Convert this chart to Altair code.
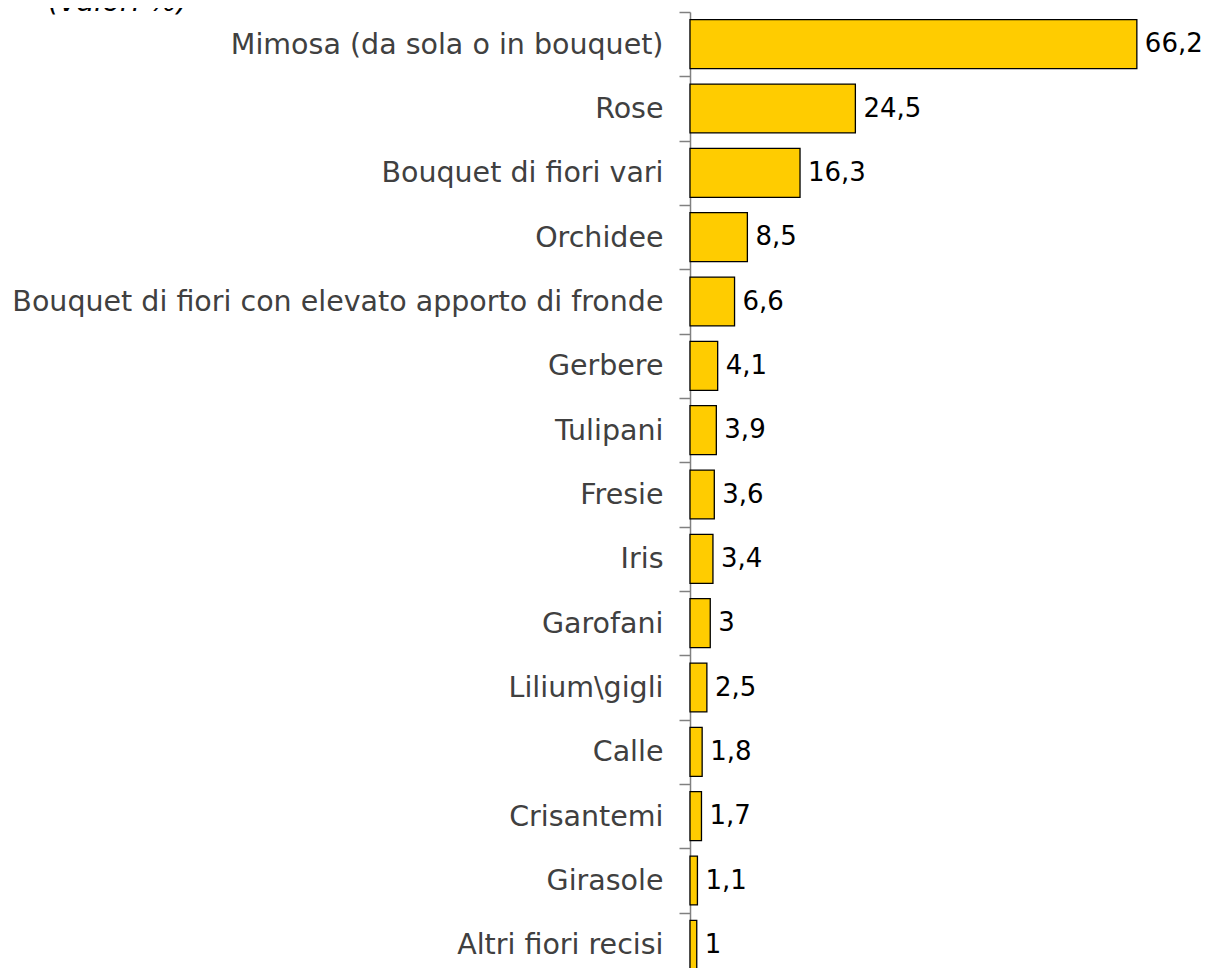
import altair as alt
import pandas as pd

categories = [
    "Mimosa (da sola o in bouquet)", "Rose", "Bouquet di fiori vari", "Orchidee",
    "Bouquet di fiori con elevato apporto di fronde", "Gerbere", "Tulipani", "Fresie",
    "Iris", "Garofani", "Lilium\\gigli", "Calle", "Crisantemi", "Girasole", "Altri fiori recisi",
]
values = [66.2, 24.5, 16.3, 8.5, 6.6, 4.1, 3.9, 3.6, 3.4, 3.0, 2.5, 1.8, 1.7, 1.1, 1.0]
value_labels = ["66,2", "24,5", "16,3", "8,5", "6,6", "4,1", "3,9", "3,6", "3,4", "3",
                "2,5", "1,8", "1,7", "1,1", "1"]
subtitle = "(valori %)"

df = pd.DataFrame({"cat": categories, "val": values, "lab": value_labels})

FONT = "DejaVu Sans"
H = 965
STEP = H / len(categories)
W = 505

y_enc = alt.Y(
    "cat:N", sort=categories, title=None,
    scale=alt.Scale(paddingInner=0.24, paddingOuter=0.12),
    axis=alt.Axis(
        domainColor="#808080", domainWidth=1.5, tickColor="#808080", tickWidth=1.5,
        tickSize=11, tickOffset=-STEP / 2, labelOffset=STEP / 2, labelPadding=16,
        labelFont=FONT, labelFontSize=28.5, labelColor="#404040", labelLimit=0,
    ),
)
x_enc = alt.X("val:Q", title=None, scale=alt.Scale(domain=[0, W / 6.75], nice=False),
              axis=None)

bars = alt.Chart(df).mark_bar(color="#FFCC00", stroke="#000000", strokeWidth=1.3).encode(
    x=x_enc, y=y_enc
)
texts = alt.Chart(df).mark_text(align="left", baseline="middle", dx=8, font=FONT,
                                fontSize=26, color="#000000").encode(
    x=x_enc, y=alt.Y("cat:N", sort=categories), text="lab:N"
)
sub = alt.Chart(pd.DataFrame({"t": [subtitle]})).mark_text(
    align="left", baseline="alphabetic", font=FONT, fontSize=29, fontStyle="italic",
    color="#000000",
).encode(x=alt.value(-642), y=alt.value(-1), text="t:N")

chart = (bars + texts + sub).properties(
    width=W, height=H,
    autosize=alt.AutoSizeParams(type="none"),
    padding={"left": 682, "right": 8, "top": 4, "bottom": -9},
).configure_view(stroke=None)

chart.save("out.html", embed_options={"renderer": "svg", "actions": False})
